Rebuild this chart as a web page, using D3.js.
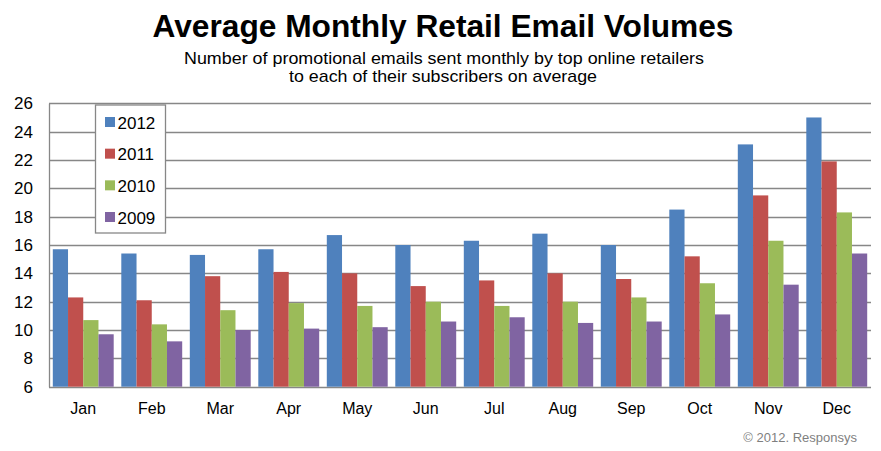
<!DOCTYPE html>
<html>
<head>
<meta charset="utf-8">
<script src="https://cdn.jsdelivr.net/npm/d3@7"></script>
<style>
  html, body { margin: 0; padding: 0; background: #fff; }
  svg { display: block; font-family: Arial, "Liberation Sans", sans-serif; }
</style>
</head>
<body>
<div id="chart"></div>
<script>
const months = ['Jan', 'Feb', 'Mar', 'Apr', 'May', 'Jun', 'Jul', 'Aug', 'Sep', 'Oct', 'Nov', 'Dec'];
const years = ['2012', '2011', '2010', '2009'];
const v2012 = [15.7, 15.4, 15.3, 15.7, 16.7, 16.0, 16.3, 16.8, 16.0, 18.5, 23.1, 25.0];
const v2011 = [12.3, 12.1, 13.8, 14.1, 14.0, 13.1, 13.5, 14.0, 13.6, 15.2, 19.5, 21.9];
const v2010 = [10.7, 10.4, 11.4, 11.9, 11.7, 12.0, 11.7, 12.0, 12.3, 13.3, 16.3, 18.3];
const v2009 = [9.7, 9.2, 10.0, 10.1, 10.2, 10.6, 10.9, 10.5, 10.6, 11.1, 13.2, 15.4];
const yTicks = [6, 8, 10, 12, 14, 16, 18, 20, 22, 24, 26];
const colors = ['#4f81bd', '#c0504d', '#9bbb59', '#8064a2'];

const series = { '2012': v2012, '2011': v2011, '2010': v2010, '2009': v2009 };
const rows = months.map((m, i) => {
    const r = { month: m };
    years.forEach(y => { r[y] = series[y][i]; });
    return r;
});

const W = 881, H = 451;
const plot = { left: 49, right: 871, top: 103.3, bottom: 386.7 };

const svg = d3.select('#chart').append('svg')
    .attr('width', W)
    .attr('height', H);

// titles
svg.append('text')
    .attr('x', 443).attr('y', 37)
    .attr('text-anchor', 'middle')
    .attr('font-size', 31)
    .attr('font-weight', 'bold')
    .attr('textLength', 581)
    .attr('lengthAdjust', 'spacingAndGlyphs')
    .text('Average Monthly Retail Email Volumes');

svg.append('text')
    .attr('x', 444).attr('y', 64)
    .attr('text-anchor', 'middle')
    .attr('font-size', 17)
    .attr('textLength', 520)
    .attr('lengthAdjust', 'spacingAndGlyphs')
    .text('Number of promotional emails sent monthly by top online retailers');

svg.append('text')
    .attr('x', 443).attr('y', 81.7)
    .attr('text-anchor', 'middle')
    .attr('font-size', 17)
    .attr('textLength', 308)
    .attr('lengthAdjust', 'spacingAndGlyphs')
    .text('to each of their subscribers on average');

const y = d3.scaleLinear()
    .domain([6, 26])
    .range([plot.bottom, plot.top]);

const x0 = d3.scaleBand()
    .domain(months)
    .range([plot.left, plot.right])
    .paddingInner(0.111)
    .paddingOuter(0.0555);

const x1 = d3.scaleBand()
    .domain(years)
    .range([0, x0.bandwidth()]);

const color = d3.scaleOrdinal().domain(years).range(colors);

// grid lines
svg.append('g')
    .selectAll('line')
    .data(yTicks)
    .join('line')
    .attr('x1', plot.left)
    .attr('x2', plot.right)
    .attr('y1', d => Math.round(y(d)) + 0.5)
    .attr('y2', d => Math.round(y(d)) + 0.5)
    .attr('stroke', '#878787')
    .attr('stroke-width', 1.3);

// y axis
const yAxis = svg.append('g')
    .attr('transform', `translate(${plot.left},0)`)
    .call(d3.axisLeft(y).tickValues(yTicks).tickSize(0).tickPadding(16));
yAxis.select('.domain')
    .attr('stroke', '#878787')
    .attr('stroke-width', 1.3);
yAxis.selectAll('text')
    .attr('font-size', 17)
    .attr('fill', '#000')
    .attr('font-family', 'Arial, "Liberation Sans", sans-serif');

// bars
svg.append('g')
    .selectAll('g')
    .data(rows)
    .join('g')
    .attr('transform', d => `translate(${x0(d.month)},0)`)
    .selectAll('rect')
    .data(d => years.map(k => ({ key: k, value: d[k] })))
    .join('rect')
    .attr('x', d => x1(d.key))
    .attr('width', x1.bandwidth())
    .attr('y', d => y(d.value))
    .attr('height', d => y(6) - y(d.value))
    .attr('fill', d => color(d.key));

// x labels
const xAxis = svg.append('g')
    .attr('transform', `translate(0,${plot.bottom})`)
    .call(d3.axisBottom(x0).tickSize(0).tickPadding(16));
xAxis.select('.domain').remove();
xAxis.selectAll('text')
    .attr('font-size', 16)
    .attr('fill', '#000')
    .attr('font-family', 'Arial, "Liberation Sans", sans-serif');

// legend
const legend = svg.append('g').attr('transform', 'translate(95.5,105)');
legend.append('rect')
    .attr('width', 70)
    .attr('height', 128)
    .attr('fill', '#fff')
    .attr('stroke', '#878787')
    .attr('stroke-width', 1.3);

const legendY = d3.scalePoint()
    .domain(years)
    .range([17, 112]);

const items = legend.selectAll('g.item')
    .data(years)
    .join('g')
    .attr('class', 'item')
    .attr('transform', d => `translate(0,${legendY(d)})`);
items.append('rect')
    .attr('x', 9.5)
    .attr('y', -5)
    .attr('width', 10)
    .attr('height', 10)
    .attr('fill', d => color(d));
items.append('text')
    .attr('x', 22)
    .attr('y', 6.5)
    .attr('font-size', 17)
    .text(d => d);

// footer
svg.append('text')
    .attr('x', 857).attr('y', 442)
    .attr('text-anchor', 'end')
    .attr('font-size', 13)
    .attr('fill', '#7f7f7f')
    .text('\u00a9 2012. Responsys');
</script>
</body>
</html>
